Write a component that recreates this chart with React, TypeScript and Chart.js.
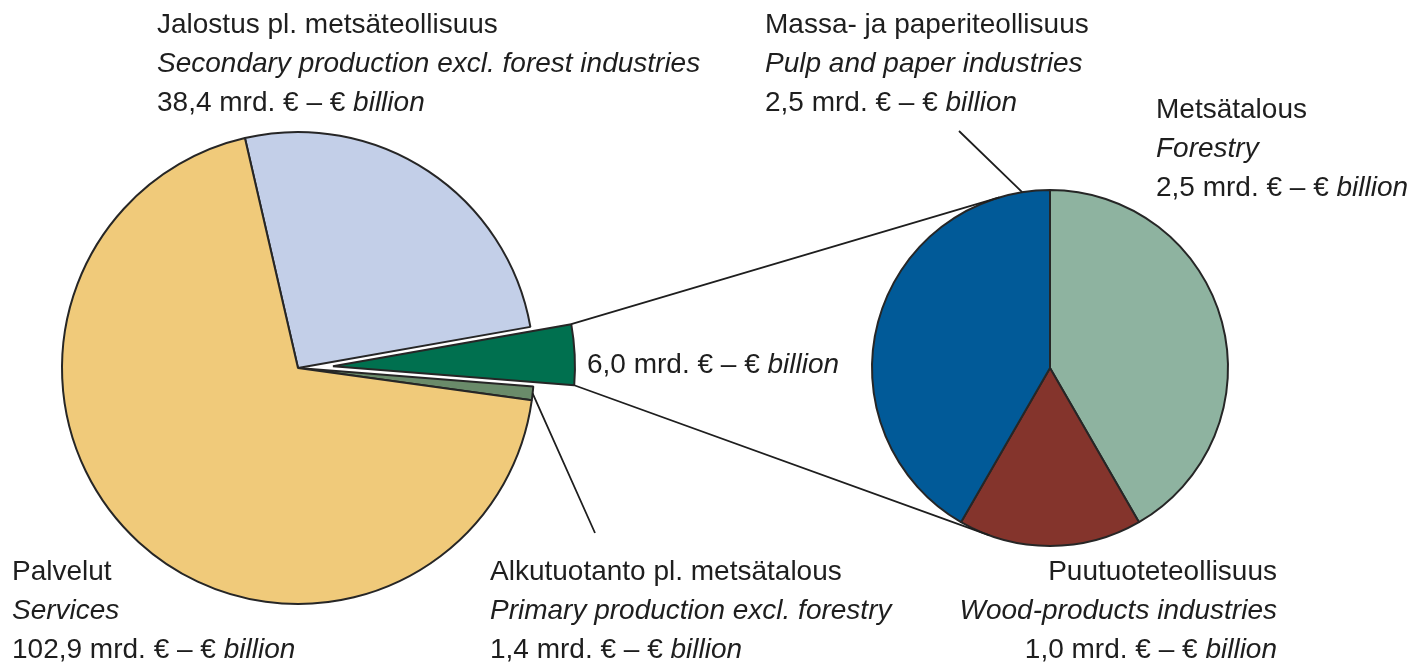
import React, { useEffect, useRef } from "react";
import { Chart, registerables } from "chart.js";

Chart.register(...registerables);

// ---------- DATA ----------
// Left pie: value added by sector (mrd. € – € billion)
const mainLabelsFi = ["Jalostus pl. metsäteollisuus", "Metsäsektori", "Alkutuotanto pl. metsätalous", "Palvelut"];
const mainLabelsEn = ["Secondary production excl. forest industries", "Forest sector", "Primary production excl. forestry", "Services"];
const mainValues = [38.4, 6.0, 1.4, 102.9];
const mainColors = ["#C3CFE8", "#00704F", "#6A8B6A", "#F0CA7A"];
const explodedIndex = 1;

// Right pie: forest sector breakdown
const forestLabelsFi = ["Metsätalous", "Puutuoteteollisuus", "Massa- ja paperiteollisuus"];
const forestLabelsEn = ["Forestry", "Wood-products industries", "Pulp and paper industries"];
const forestValues = [2.5, 1.0, 2.5];
const forestColors = ["#8EB3A0", "#84342C", "#015A98"];

// ---------- LAYOUT ----------
const W = 1408;
const H = 663;
const LEFT_C = { x: 298, y: 368 };
const LEFT_R = 236;
const LEFT_ROT = -13;
const EXPLODE = 35;
const EXPLODED_R = 242;
const RIGHT_C = { x: 1050, y: 368 };
const RIGHT_R = 178;
const BORDER = "#262626";
const BW = 2;
const TEXT = "#1e1e1e";
const FONT = '28px "Liberation Sans", Arial, Helvetica, sans-serif';
const LINE_H = 39;
const BASE_OFF = 29.2;

const fmt = (v: number) => v.toFixed(1).replace(".", ",");

const padFor = (cx: number, cy: number) => ({
  left: Math.max(0, 2 * cx - W),
  right: Math.max(0, W - 2 * cx),
  top: Math.max(0, 2 * cy - H),
  bottom: Math.max(0, H - 2 * cy),
});

function explodedCenter() {
  const total = mainValues.reduce((a, b) => a + b, 0);
  let before = 0;
  for (let i = 0; i < explodedIndex; i++) before += mainValues[i];
  const midDeg = LEFT_ROT + ((before + mainValues[explodedIndex] / 2) / total) * 360 - 90;
  const a = (midDeg * Math.PI) / 180;
  return { x: LEFT_C.x + EXPLODE * Math.cos(a), y: LEFT_C.y + EXPLODE * Math.sin(a) };
}

const baseOptions = (pad: any) => ({
  responsive: false,
  animation: false as const,
  events: [] as any[],
  layout: { padding: pad },
  plugins: { legend: { display: false }, tooltip: { enabled: false } },
});

function tangentPoint(px: number, py: number, cx: number, cy: number, r: number, upper: boolean) {
  const dx = cx - px;
  const dy = cy - py;
  const d = Math.sqrt(dx * dx + dy * dy);
  const phi = Math.atan2(dy, dx);
  const th = Math.asin(Math.min(1, r / d));
  const L = Math.sqrt(Math.max(0, d * d - r * r));
  const a = upper ? phi - th : phi + th;
  return { x: px + L * Math.cos(a), y: py + L * Math.sin(a) };
}

type Part = { t: string; i?: boolean };
function Block(props: { x: number; baseline: number; align?: "left" | "right"; lines: Part[][] }) {
  const { x, baseline, align = "left", lines } = props;
  const style: any = {
    position: "absolute",
    top: baseline - BASE_OFF,
    font: FONT,
    lineHeight: LINE_H + "px",
    color: TEXT,
    whiteSpace: "nowrap",
    textAlign: align,
  };
  if (align === "left") style.left = x;
  else style.right = W - x;
  return (
    <div style={style}>
      {lines.map((ln, k) => (
        <div key={k}>
          {ln.map((p, j) => (
            <span key={j} style={{ fontStyle: p.i ? "italic" : "normal" }}>
              {p.t}
            </span>
          ))}
        </div>
      ))}
    </div>
  );
}

const valueLine = (v: number): Part[] => [{ t: `${fmt(v)} mrd. € – € ` }, { t: "billion", i: true }];

export default function App() {
  const c1 = useRef<HTMLCanvasElement>(null);
  const c2 = useRef<HTMLCanvasElement>(null);
  const c3 = useRef<HTMLCanvasElement>(null);

  useEffect(() => {
    // Left pie (exploded slice left empty)
    const leftChart = new Chart(c1.current!, {
      type: "pie",
      data: {
        labels: mainLabelsFi,
        datasets: [
          {
            data: mainValues,
            backgroundColor: mainColors.map((c, i) => (i === explodedIndex ? "rgba(0,0,0,0)" : c)),
            borderColor: BORDER,
            borderWidth: mainValues.map((_, i) => (i === explodedIndex ? 0 : BW)),
            radius: LEFT_R,
            rotation: LEFT_ROT,
          } as any,
        ],
      },
      options: { ...baseOptions(padFor(LEFT_C.x, LEFT_C.y)), radius: LEFT_R, rotation: LEFT_ROT } as any,
    });

    // Exploded slice (same data, shifted centre)
    const ec = explodedCenter();
    const explodedChart = new Chart(c2.current!, {
      type: "pie",
      data: {
        labels: mainLabelsFi,
        datasets: [
          {
            data: mainValues,
            backgroundColor: mainColors.map((c, i) => (i === explodedIndex ? c : "rgba(0,0,0,0)")),
            borderColor: BORDER,
            borderWidth: mainValues.map((_, i) => (i === explodedIndex ? BW : 0)),
            radius: EXPLODED_R,
            rotation: LEFT_ROT,
          } as any,
        ],
      },
      options: { ...baseOptions(padFor(ec.x, ec.y)), radius: EXPLODED_R, rotation: LEFT_ROT } as any,
    });

    const linesPlugin = {
      id: "connectors",
      afterDraw(chart: any) {
        const ctx = chart.ctx;
        const ex: any = explodedChart.getDatasetMeta(0).data[explodedIndex];
        const rArcs: any[] = chart.getDatasetMeta(0).data as any[];
        const rc = rArcs[0];
        const p1 = { x: ex.x + ex.outerRadius * Math.cos(ex.startAngle), y: ex.y + ex.outerRadius * Math.sin(ex.startAngle) };
        const p2 = { x: ex.x + ex.outerRadius * Math.cos(ex.endAngle), y: ex.y + ex.outerRadius * Math.sin(ex.endAngle) };
        const t1 = tangentPoint(p1.x, p1.y, rc.x, rc.y, rc.outerRadius, true);
        const t2 = tangentPoint(p2.x, p2.y, rc.x, rc.y, rc.outerRadius, false);
        ctx.save();
        ctx.strokeStyle = "#1e1e1e";
        ctx.lineWidth = 1.8;
        ctx.beginPath();
        ctx.moveTo(p1.x, p1.y);
        ctx.lineTo(t1.x, t1.y);
        ctx.moveTo(p2.x, p2.y);
        ctx.lineTo(t2.x, t2.y);
        // leader: pulp & paper
        const pulp = rArcs[2];
        const pa = pulp.endAngle - 0.06 * (pulp.endAngle - pulp.startAngle);
        ctx.moveTo(959, 131);
        ctx.lineTo(pulp.x + pulp.outerRadius * Math.cos(pa), pulp.y + pulp.outerRadius * Math.sin(pa));
        // leader: primary production
        const prim: any = leftChart.getDatasetMeta(0).data[2];
        const ma = (prim.startAngle + prim.endAngle) / 2;
        ctx.moveTo(prim.x + prim.outerRadius * Math.cos(ma), prim.y + prim.outerRadius * Math.sin(ma));
        ctx.lineTo(595, 533);
        ctx.stroke();
        ctx.restore();
      },
    };

    const rightChart = new Chart(c3.current!, {
      type: "pie",
      data: {
        labels: forestLabelsFi,
        datasets: [
          {
            data: forestValues,
            backgroundColor: forestColors,
            borderColor: BORDER,
            borderWidth: BW,
            radius: RIGHT_R,
            rotation: 0,
          } as any,
        ],
      },
      options: { ...baseOptions(padFor(RIGHT_C.x, RIGHT_C.y)), radius: RIGHT_R } as any,
      plugins: [linesPlugin],
    });

    return () => {
      rightChart.destroy();
      explodedChart.destroy();
      leftChart.destroy();
    };
  }, []);

  const cv: any = { position: "absolute", left: 0, top: 0, width: W, height: H };
  const forestTotal = forestValues.reduce((a, b) => a + b, 0);

  return (
    <div style={{ position: "absolute", left: 0, top: 0, width: W, height: H, background: "#fff", overflow: "hidden" }}>
      <canvas ref={c1} width={W} height={H} style={cv} />
      <canvas ref={c2} width={W} height={H} style={cv} />
      <canvas ref={c3} width={W} height={H} style={cv} />

      <Block x={157} baseline={33} lines={[[{ t: mainLabelsFi[0] }], [{ t: mainLabelsEn[0], i: true }], valueLine(mainValues[0])]} />
      <Block x={765} baseline={33} lines={[[{ t: forestLabelsFi[2] }], [{ t: forestLabelsEn[2], i: true }], valueLine(forestValues[2])]} />
      <Block x={1156} baseline={118} lines={[[{ t: forestLabelsFi[0] }], [{ t: forestLabelsEn[0], i: true }], valueLine(forestValues[0])]} />
      <Block x={587} baseline={373} lines={[valueLine(forestTotal)]} />
      <Block x={12} baseline={580} lines={[[{ t: mainLabelsFi[3] }], [{ t: mainLabelsEn[3], i: true }], valueLine(mainValues[3])]} />
      <Block x={490} baseline={580} lines={[[{ t: mainLabelsFi[2] }], [{ t: mainLabelsEn[2], i: true }], valueLine(mainValues[2])]} />
      <Block x={1277} baseline={580} align="right" lines={[[{ t: forestLabelsFi[1] }], [{ t: forestLabelsEn[1], i: true }], valueLine(forestValues[1])]} />
    </div>
  );
}
